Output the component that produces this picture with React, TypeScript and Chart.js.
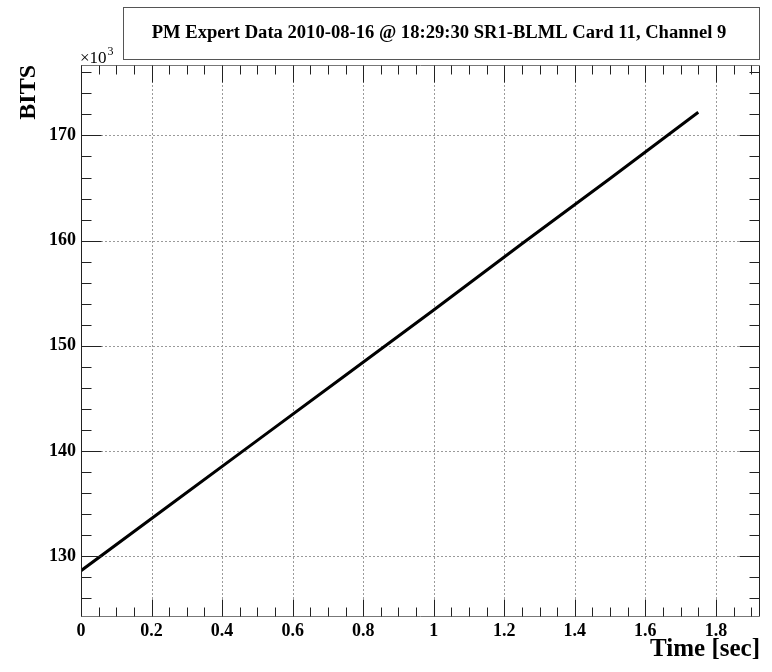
import React, { useEffect, useRef } from "react";
import { Chart, registerables } from "chart.js";

Chart.register(...registerables);

// ---- data ----
const timeSec = [0, 0.25, 0.5, 0.75, 1.0, 1.25, 1.5, 1.75];
const bits = [128600, 134800, 141000, 147200, 153400, 159700, 165900, 172200];

const xTicks = [0, 0.2, 0.4, 0.6, 0.8, 1.0, 1.2, 1.4, 1.6, 1.8];
const xTickLabels = ["0", "0.2", "0.4", "0.6", "0.8", "1", "1.2", "1.4", "1.6", "1.8"];
const xMinorStep = 0.05;
const yTicks = [130000, 140000, 150000, 160000, 170000];
const yTickLabels = ["130", "140", "150", "160", "170"];
const yMinorStep = 2000;
const xMin = 0;
const xMax = 1.925;
const yMin = 124200;
const yMax = 176700;

const titleText = "PM Expert Data 2010-08-16 @ 18:29:30 SR1-BLML Card 11, Channel 9";
const xTitle = "Time [sec]";
const yTitle = "BITS";
const yExponent = "3";

const SERIF = "'Liberation Serif', 'Times New Roman', serif";

const rootPlugin = {
  id: "rootStyle",
  beforeDatasetsDraw(chart: any) {
    const { ctx, chartArea: a, scales } = chart;
    const x = scales.x;
    const y = scales.y;
    ctx.save();
    ctx.strokeStyle = "#9a9a9a";
    ctx.lineWidth = 1;
    ctx.setLineDash([2, 2]);
    for (const v of xTicks) {
      const px = Math.round(x.getPixelForValue(v)) + 0.5;
      ctx.beginPath();
      ctx.moveTo(px, a.top);
      ctx.lineTo(px, a.bottom);
      ctx.stroke();
    }
    for (const v of yTicks) {
      const py = Math.round(y.getPixelForValue(v)) + 0.5;
      ctx.beginPath();
      ctx.moveTo(a.left, py);
      ctx.lineTo(a.right, py);
      ctx.stroke();
    }
    ctx.restore();
  },
  afterDatasetsDraw(chart: any) {
    const { ctx, chartArea: a, scales } = chart;
    const x = scales.x;
    const y = scales.y;
    ctx.save();
    ctx.setLineDash([]);
    ctx.lineWidth = 1;
    const L = Math.round(a.left) + 0.5;
    const R = Math.round(a.right) - 0.5;
    const T = Math.round(a.top) + 0.5;
    const B = Math.round(a.bottom) - 0.5;
    ctx.strokeStyle = "#222";
    ctx.beginPath();
    ctx.moveTo(L, T);
    ctx.lineTo(L, B);
    ctx.moveTo(R, T);
    ctx.lineTo(R, B);
    ctx.stroke();
    ctx.strokeStyle = "#777";
    ctx.beginPath();
    ctx.moveTo(L, T);
    ctx.lineTo(R, T);
    ctx.moveTo(L, B);
    ctx.lineTo(R, B);
    ctx.stroke();

    ctx.strokeStyle = "#222";
    const nx = Math.round((xMax - xMin) / xMinorStep);
    for (let i = 0; i <= nx; i++) {
      const v = xMin + i * xMinorStep;
      if (v > xMax) break;
      const major = Math.abs(v / 0.2 - Math.round(v / 0.2)) < 1e-6;
      const len = major ? 17 : 9;
      const px = Math.round(x.getPixelForValue(v)) + 0.5;
      ctx.beginPath();
      ctx.moveTo(px, B);
      ctx.lineTo(px, B - len);
      ctx.moveTo(px, T);
      ctx.lineTo(px, T + len);
      ctx.stroke();
    }
    const startY = Math.ceil(yMin / yMinorStep) * yMinorStep;
    for (let v = startY; v <= yMax; v += yMinorStep) {
      const major = v % 10000 === 0;
      const len = major ? 20 : 10;
      const py = Math.round(y.getPixelForValue(v)) + 0.5;
      ctx.beginPath();
      ctx.moveTo(L, py);
      ctx.lineTo(L + len, py);
      ctx.moveTo(R, py);
      ctx.lineTo(R - len, py);
      ctx.stroke();
    }
    ctx.restore();
  },
  afterDraw(chart: any) {
    const { ctx, chartArea: a } = chart;
    ctx.save();
    // title box
    ctx.strokeStyle = "#555";
    ctx.lineWidth = 1;
    ctx.strokeRect(123.5, 7.5, 636, 52);
    ctx.fillStyle = "#000";
    ctx.font = `bold 18.6px ${SERIF}`;
    ctx.textAlign = "center";
    ctx.textBaseline = "alphabetic";
    ctx.fillText(titleText, 439, 38);

    // x10^3
    ctx.textAlign = "left";
    ctx.font = `17px ${SERIF}`;
    const base = "\u00d710";
    ctx.fillText(base, a.left - 1, a.top - 2);
    const w = ctx.measureText(base).width;
    ctx.font = `12px ${SERIF}`;
    ctx.fillText(yExponent, a.left - 1 + w + 1, a.top - 10);

    // y title
    ctx.save();
    ctx.translate(35, a.top);
    ctx.rotate(-Math.PI / 2);
    ctx.font = `bold 24px ${SERIF}`;
    ctx.textAlign = "right";
    ctx.textBaseline = "alphabetic";
    ctx.fillText(yTitle, 0, 0);
    ctx.restore();

    // x title
    ctx.font = `bold 25px ${SERIF}`;
    ctx.textAlign = "right";
    ctx.textBaseline = "alphabetic";
    ctx.fillText(xTitle, a.right, 656);
    ctx.restore();
  },
};

export default function App() {
  const ref = useRef<HTMLCanvasElement | null>(null);
  useEffect(() => {
    if (!ref.current) return;
    const tickFont = { family: SERIF, size: 18, weight: "bold" as const };
    const chart = new Chart(ref.current, {
      type: "line",
      data: {
        datasets: [
          {
            data: timeSec.map((t, i) => ({ x: t, y: bits[i] })),
            borderColor: "#000",
            borderWidth: 3,
            pointRadius: 0,
            tension: 0,
            fill: false,
          },
        ],
      },
      options: {
        animation: false,
        responsive: false,
        layout: { padding: { top: 65, right: 12, left: 0, bottom: 0 } },
        plugins: { legend: { display: false }, tooltip: { enabled: false } },
        scales: {
          x: {
            type: "linear",
            min: xMin,
            max: xMax,
            grid: { display: false, drawTicks: false },
            border: { display: false },
            ticks: {
              font: tickFont,
              color: "#000",
              padding: 4,
              maxRotation: 0,
              autoSkip: false,
              callback: (v: any) => {
                const i = xTicks.findIndex((t) => Math.abs(t - v) < 1e-9);
                return i >= 0 ? xTickLabels[i] : "";
              },
            },
            afterBuildTicks: (s: any) => {
              s.ticks = xTicks.map((v) => ({ value: v }));
            },
            afterFit: (s: any) => {
              s.height = 55;
            },
          },
          y: {
            type: "linear",
            min: yMin,
            max: yMax,
            grid: { display: false, drawTicks: false },
            border: { display: false },
            ticks: {
              font: tickFont,
              color: "#000",
              padding: 5,
              autoSkip: false,
              callback: (v: any) => {
                const i = yTicks.indexOf(v);
                return i >= 0 ? yTickLabels[i] : "";
              },
            },
            afterBuildTicks: (s: any) => {
              s.ticks = yTicks.map((v) => ({ value: v }));
            },
            afterFit: (s: any) => {
              s.width = 81;
            },
          },
        },
      },
      plugins: [rootPlugin],
    });
    return () => chart.destroy();
  }, []);
  return (
    <div style={{ position: "absolute", left: 0, top: 0, width: 772, height: 672, background: "#fff" }}>
      <canvas ref={ref} width={772} height={672} style={{ display: "block" }} />
    </div>
  );
}
